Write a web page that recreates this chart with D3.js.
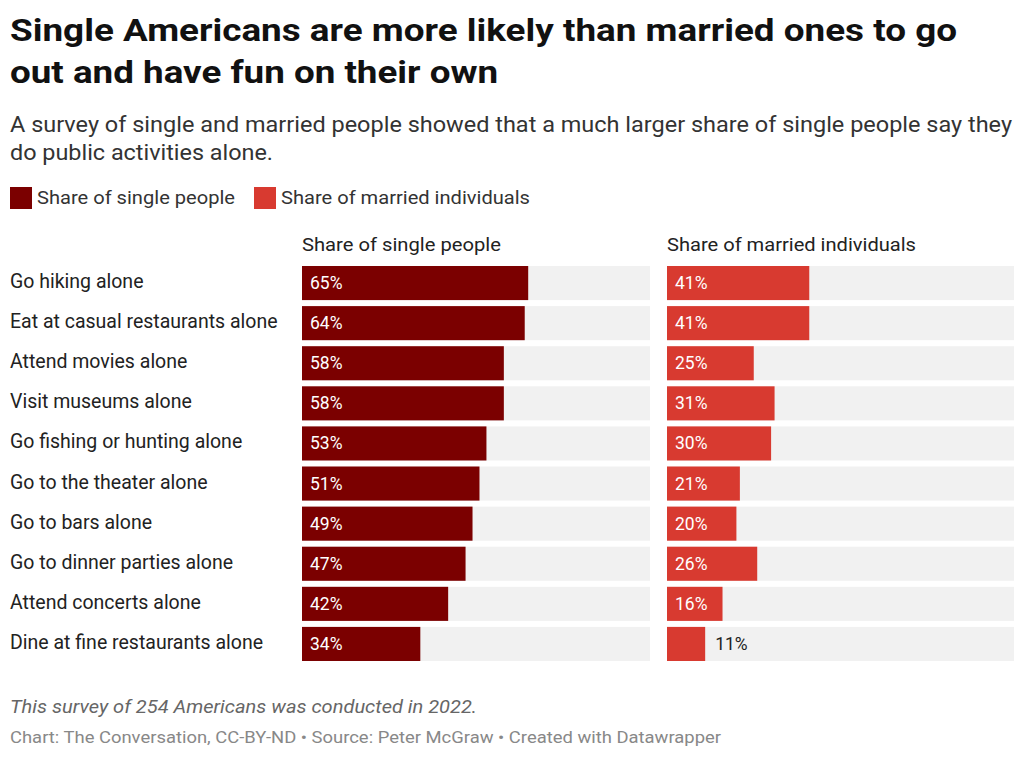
<!DOCTYPE html>
<html><head><meta charset="utf-8">
<script src="https://cdn.jsdelivr.net/npm/d3@7"></script>
<style>body{margin:0;background:#fff;font-family:Roboto,sans-serif}</style>
</head><body><svg id="chart" width="1024" height="757"></svg>
<script>
// chart data
var activities = ["Go hiking alone","Eat at casual restaurants alone","Attend movies alone","Visit museums alone","Go fishing or hunting alone","Go to the theater alone","Go to bars alone","Go to dinner parties alone","Attend concerts alone","Dine at fine restaurants alone"];
var singleShare = [65,64,58,58,53,51,49,47,42,34];
var marriedShare = [41,41,25,31,30,21,20,26,16,11];
var seriesNames = ["Share of single people","Share of married individuals"];
var colors = ["#7b0000","#d83a30"];

var svg = d3.select("#chart");

// helper: text stretched to a measured width
function txt(x, y, size, fill, s, len, extra){
  var t = svg.append("text").attr("x",x).attr("y",y).attr("font-size",size).attr("fill",fill).text(s);
  if(len) t.attr("textLength",len).attr("lengthAdjust","spacingAndGlyphs");
  if(extra) extra(t);
  return t;
}

// title + subtitle
txt(10,41,32,"#111","Single Americans are more likely than married ones to go",947,function(t){t.attr("font-weight",700);});
txt(10,83,32,"#111","out and have fun on their own",488,function(t){t.attr("font-weight",700);});
txt(10,132,21.5,"#333","A survey of single and married people showed that a much larger share of single people say they",1002);
txt(10,160,21.5,"#333","do public activities alone.",263);

// legend
var lx = [10, 254];
var lw = [198, 249];
seriesNames.forEach(function(n,i){
  svg.append("rect").attr("x",lx[i]).attr("y",187).attr("width",22).attr("height",22).attr("fill",colors[i]);
  txt(lx[i]+27,204,19,"#333",n,lw[i]);
});

var y = d3.scaleBand().domain(activities).range([263,664]).paddingInner(0.15).paddingOuter(0.075);

// row labels
svg.selectAll(".lab").data(activities).join("text")
  .attr("x",10).attr("y",function(d){return y(d)+y.bandwidth()/2+5;})
  .attr("font-size",19.5).attr("fill","#222").text(function(d){return d;});

var hw = [199, 249];
var panels = [{x0:302,x1:650,vals:singleShare},{x0:667,x1:1014,vals:marriedShare}];
panels.forEach(function(p,pi){
  var x = d3.scaleLinear().domain([0,100]).range([p.x0,p.x1]);
  txt(p.x0,251,19,"#222",seriesNames[pi],hw[pi]);
  var g = svg.append("g");
  g.selectAll(".bg").data(activities).join("rect")
    .attr("x",x(0)).attr("y",function(d){return y(d);}).attr("width",x(100)-x(0)).attr("height",y.bandwidth()).attr("fill","#f1f1f1");
  g.selectAll(".bar").data(p.vals).join("rect")
    .attr("x",x(0)).attr("y",function(d,i){return y(activities[i]);})
    .attr("width",function(d){return x(d)-x(0);}).attr("height",y.bandwidth()).attr("fill",colors[pi]);
  g.selectAll(".val").data(p.vals).join("text")
    .attr("x",function(d){return d<15 ? x(d)+10 : x(0)+8;})
    .attr("y",function(d,i){return y(activities[i])+y.bandwidth()/2+6;})
    .attr("font-size",17.5).attr("fill",function(d){return d<15?"#222":"#fff";})
    .text(function(d){return d+"%";});
});

// footer
txt(10,713,18.5,"#666","This survey of 254 Americans was conducted in 2022.",467,function(t){t.attr("font-style","italic");});
txt(10,743,16.5,"#888","Chart: The Conversation, CC-BY-ND • Source: Peter McGraw • Created with Datawrapper",711);
</script></body></html>
